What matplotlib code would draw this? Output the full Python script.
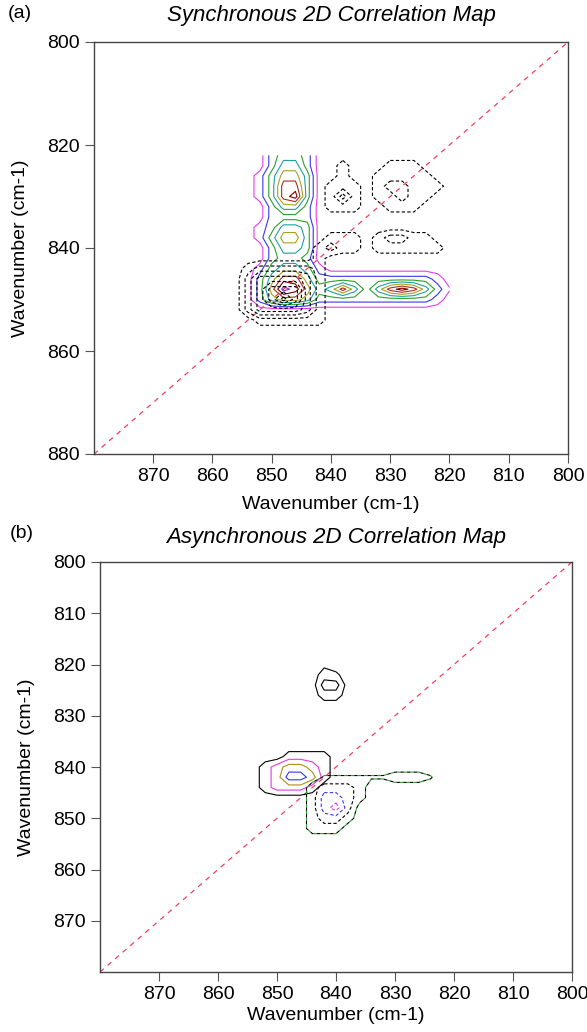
import numpy as np
import matplotlib
matplotlib.use('Agg')
import matplotlib.pyplot as plt

plt.rcParams['font.family'] = ['Liberation Sans', 'DejaVu Sans']

# ---- synchronous map: contour level grid, 2 cm-1 step ----
# columns run 858 -> 820 (left to right on the inverted axis), rows 822 -> 858 (top to bottom)
sync_x = np.arange(858, 819, -2)
sync_y = np.arange(822, 859, 2)

sync_pos = [
    [0, 0, 0, 0, 2, 3, 3, 2, 0, 0, 0, 0, 0, 0, 0, 0, 0, 0, 0, 0],  # 822
    [0, 0, 0, 0, 2, 4, 4, 2, 0, 0, 0, 0, 0, 0, 0, 0, 0, 0, 0, 0],  # 824
    [0, 0, 0, 1, 3, 5, 5, 3, 0, 0, 0, 0, 0, 0, 0, 0, 0, 0, 0, 0],  # 826
    [0, 0, 0, 1, 3, 6, 6, 3, 0, 0, 0, 0, 0, 0, 0, 0, 0, 0, 0, 0],  # 828
    [0, 0, 0, 1, 3, 6, 7, 3, 0, 0, 0, 0, 0, 0, 0, 0, 0, 0, 0, 0],  # 830
    [0, 0, 0, 0, 2, 4, 4, 2, 0, 0, 0, 0, 0, 0, 0, 0, 0, 0, 0, 0],  # 832
    [0, 0, 0, 0, 2, 2, 2, 2, 0, 0, 0, 0, 0, 0, 0, 0, 0, 0, 0, 0],  # 834
    [0, 0, 0, 1, 2, 4, 4, 3, 0, 0, 0, 0, 0, 0, 0, 0, 0, 0, 0, 0],  # 836
    [0, 0, 0, 1, 3, 5, 5, 3, 0, 0, 0, 0, 0, 0, 0, 0, 0, 0, 0, 0],  # 838
    [0, 0, 0, 0, 2, 4, 4, 3, 0, 0, 0, 0, 0, 0, 0, 0, 0, 0, 0, 0],  # 840
    [0, 0, 0, 0, 2, 3, 3, 2, 0, 0, 0, 0, 0, 0, 0, 0, 0, 0, 0, 0],  # 842
    [0, 0, 0, 1, 3, 4, 4, 3, 1, 0, 0, 0, 0, 0, 0, 0, 0, 0, 0, 0],  # 844
    [0, 0, 0, 2, 4, 6, 6, 4, 2, 2, 2, 2, 2, 2, 2, 2, 2, 2, 1, 0],  # 846
    [0, 0, 0, 2, 5, 8, 7, 5, 3, 4, 6, 4, 2, 4, 6, 7, 6, 4, 2, .6],  # 848
    [0, 0, 0, 2, 4, 5, 5, 4, 2, 2, 2, 2, 2, 2, 2, 2, 2, 2, 1, 0],  # 850
    [0, 0, 0, 0, 0, 0, 0, 0, 0, 0, 0, 0, 0, 0, 0, 0, 0, 0, 0, 0],  # 852
    [0, 0, 0, 0, 0, 0, 0, 0, 0, 0, 0, 0, 0, 0, 0, 0, 0, 0, 0, 0],  # 854
    [0, 0, 0, 0, 0, 0, 0, 0, 0, 0, 0, 0, 0, 0, 0, 0, 0, 0, 0, 0],  # 856
    [0, 0, 0, 0, 0, 0, 0, 0, 0, 0, 0, 0, 0, 0, 0, 0, 0, 0, 0, 0],  # 858
]

sync_neg = [
    [0, 0, 0, 0, 0, 0, 0, 0, 0, 0, 0, 0, 0, 0, 0, 0, 0, 0, 0, 0],  # 822
    [0, 0, 0, 0, 0, 0, 0, 0, 0, 0, 1, 0, 0, 0, 1, 1, 1, 0, 0, 0],  # 824
    [0, 0, 0, 0, 0, 0, 0, 0, 0, 0, 1, 0, 0, 1, 1, 1, 1, 1, 0, 0],  # 826
    [0, 0, 0, 0, 0, 0, 0, 0, 0, 1, 1, 1, 0, 1, 2, 2, 1, 1, 1, 0],  # 828
    [0, 0, 0, 0, 0, 0, 0, 0, 0, 1, 3, 1, 0, 1, 1, 2, 1, 1, 0, 0],  # 830
    [0, 0, 0, 0, 0, 0, 0, 0, 0, 1, 1, 1, 0, 0, 1, 1, 1, 0, 0, 0],  # 832
    [0, 0, 0, 0, 0, 0, 0, 0, 0, 0, 0, 0, 0, 0, 0, 0, 0, 0, 0, 0],  # 834
    [0, 0, 0, 0, 0, 0, 0, 0, 0, 0, 0, 0, 0, 0, 0, 0, 0, 0, 0, 0],  # 836
    [0, 0, 0, 0, 0, 0, 0, 0, 0, 1, 1, 1, 0, 1, 2, 2, 1, 1, 0, 0],  # 838
    [0, 0, 0, 0, 0, 0, 0, 0, 1, 2, 1, 1, 0, 1, 1, 1, 1, 1, 1, 0],  # 840
    [0, 0, 0, 0, 0, 0, 0, 0, 1, 0, 0, 0, 0, 0, 0, 0, 0, 0, 0, 0],  # 842
    [0, 0, 1, 2, 2, 2, 2, 2, 1, 0, 0, 0, 0, 0, 0, 0, 0, 0, 0, 0],  # 844
    [0, 0, 2, 4, 4, 4, 4, 3, 1, 0, 0, 0, 0, 0, 0, 0, 0, 0, 0, 0],  # 846
    [0, 0, 2, 4, 6, 6, 6, 3, 1, 0, 0, 0, 0, 0, 0, 0, 0, 0, 0, 0],  # 848
    [0, 0, 2, 4, 6, 8, 6, 3, 1, 0, 0, 0, 0, 0, 0, 0, 0, 0, 0, 0],  # 850
    [0, 0, 2, 4, 4, 4, 4, 3, 1, 0, 0, 0, 0, 0, 0, 0, 0, 0, 0, 0],  # 852
    [0, 0, 0, 1, 1, 1, 1, 1, 1, 0, 0, 0, 0, 0, 0, 0, 0, 0, 0, 0],  # 854
    [0, 0, 0, 0, 0, 0, 0, 0, 0, 0, 0, 0, 0, 0, 0, 0, 0, 0, 0, 0],  # 856
    [0, 0, 0, 0, 0, 0, 0, 0, 0, 0, 0, 0, 0, 0, 0, 0, 0, 0, 0, 0],  # 858
]

# ---- asynchronous map ----
# columns 856 -> 820, rows 818 -> 856
async_x = np.arange(856, 819, -2)
async_y = np.arange(818, 857, 2)

# small peak near (841, 823)
async_pos_top = [
    [0, 0, 0, 0, 0, 0, 0, 0, 0, 0, 0, 0, 0, 0, 0, 0, 0, 0, 0],  # 818
    [0, 0, 0, 0, 0, 0, 0, .25, 0, 0, 0, 0, 0, 0, 0, 0, 0, 0, 0],  # 820
    [0, 0, 0, 0, 0, 0, 0, 1, .7, 0, 0, 0, 0, 0, 0, 0, 0, 0, 0],  # 822
    [0, 0, 0, 0, 0, 0, 0, 2, 2, 0, 0, 0, 0, 0, 0, 0, 0, 0, 0],  # 824
    [0, 0, 0, 0, 0, 0, 0, 1, 1, 0, 0, 0, 0, 0, 0, 0, 0, 0, 0],  # 826
    [0, 0, 0, 0, 0, 0, 0, 0, 0, 0, 0, 0, 0, 0, 0, 0, 0, 0, 0],  # 828
]
async_top_y = async_y[:6]

async_pos = [
    [0, 0, 0, 0, 0, 0, 0, 0, 0, 0, 0, 0, 0, 0, 0, 0, 0, 0, 0],  # 836
    [0, 0, 0, 0, 1, 1, 1, 1, 0, 0, 0, 0, 0, 0, 0, 0, 0, 0, 0],  # 838
    [0, 0, 1, 2, 3, 3, 2, 1, 0, 0, 0, 0, 0, 0, 0, 0, 0, 0, 0],  # 840
    [0, 0, 1, 2, 4, 4, 3, 1, 0, 0, 0, 0, 0, 0, 0, 0, 0, 0, 0],  # 842
    [0, 0, 1, 2, 2, 2, 1, 0, 0, 0, 0, 0, 0, 0, 0, 0, 0, 0, 0],  # 844
    [0, 0, 0, 0, 0, 0, 0, 0, 0, 0, 0, 0, 0, 0, 0, 0, 0, 0, 0],  # 846
]
async_mid_y = async_y[9:15]

async_neg = [
    [0, 0, 0, 0, 0, 0, 0, 0, 0, 0, 0, 0, 0, 0, 0, 0, 0, 0, 0],  # 840
    [0, 0, 0, 0, 0, 0, 0, .6, .6, .6, .6, .6, .6, 1, 1, 1, .6, 0, 0],  # 842
    [0, 0, 0, 0, 0, 0, 1, 2, 2, 2, 1, 0, 0, 0, 0, 0, 0, 0, 0],  # 844
    [0, 0, 0, 0, 0, 0, 1, 3, 3, 2, 1, 0, 0, 0, 0, 0, 0, 0, 0],  # 846
    [0, 0, 0, 0, 0, 0, 1, 3, 4, 2, 0, 0, 0, 0, 0, 0, 0, 0, 0],  # 848
    [0, 0, 0, 0, 0, 0, 1, 2, 2, 1, 0, 0, 0, 0, 0, 0, 0, 0, 0],  # 850
    [0, 0, 0, 0, 0, 0, 1, 1, 1, 0, 0, 0, 0, 0, 0, 0, 0, 0, 0],  # 852
    [0, 0, 0, 0, 0, 0, 0, 0, 0, 0, 0, 0, 0, 0, 0, 0, 0, 0, 0],  # 854
]
async_low_y = async_y[11:19]

levels = [0.5, 1.5, 2.5, 3.5, 4.5, 5.5, 6.5, 7.5]
sync_colors = ['#e83ce8', '#3838e8', '#2ca02c', '#20a0a0', '#a8a020', '#a83020', '#800000', '#8030c0']
async_pos_colors = ['#000000', '#e03ce0', '#a89020', '#3838e8']
async_neg_colors = ['#000000', '#3838e8', '#e03ce0']

W, H = 587, 1032
fig = plt.figure(figsize=(W / 100, H / 100), dpi=100)
ax1 = fig.add_axes([94 / W, 1 - 454 / H, 474 / W, 412 / H])
ax2 = fig.add_axes([100 / W, 1 - 972 / H, 472 / W, 410 / H])


def setup(ax, yticks, xpad):
    ax.set_xlim(880, 800)
    ax.set_ylim(880, 800)
    ax.set_xticks(np.arange(870, 799, -10))
    ax.set_yticks(yticks)
    ax.tick_params(direction='out', length=6.5, width=0.8, color='#555555',
                   labelsize=14, pad=3.5)
    for s in ax.spines.values():
        s.set_color('#444444')
        s.set_linewidth(1.0)
    ax.set_xlabel('Wavenumber (cm-1)', fontsize=14, labelpad=xpad)
    ax.set_ylabel('Wavenumber (cm-1)', fontsize=14, labelpad=13)
    # x = y reference line
    ax.plot([880, 800], [880, 800], color='#f04060', lw=0.9, ls=(0, (4, 4)))


setup(ax1, np.arange(800, 881, 20), 8)
setup(ax2, np.arange(800, 871, 10), 3)

# synchronous map
ax1.contour(sync_x, sync_y, np.array(sync_pos, float), levels=levels,
            colors=sync_colors, linewidths=0.8, linestyles='solid')
ax1.contour(sync_x, sync_y, np.array(sync_neg, float), levels=levels,
            colors='black', linewidths=0.8, linestyles=[(0, (3, 2))])

# asynchronous map
ax2.contour(async_x, async_top_y, np.array(async_pos_top, float), levels=levels[:2],
            colors='black', linewidths=0.8, linestyles='solid')
ax2.contour(async_x, async_mid_y, np.array(async_pos, float), levels=levels[:4],
            colors=async_pos_colors, linewidths=0.8, linestyles='solid')
zneg = np.array(async_neg, float)
ax2.contour(async_x, async_low_y, zneg, levels=[0.5],
            colors='#2ca02c', linewidths=0.8, linestyles=[(0, (3, 3))])
ax2.contour(async_x, async_low_y, zneg, levels=[0.5],
            colors='black', linewidths=0.8, linestyles=[(3, (3, 3))])
ax2.contour(async_x, async_low_y, zneg, levels=levels[1:4],
            colors=async_neg_colors, linewidths=0.8, linestyles=[(0, (3, 2))])

fig.text(331 / W, 1 - 16 / H, 'Synchronous 2D Correlation Map', style='italic',
         fontsize=16, ha='center', va='center')
fig.text(8 / W, 1 - 14 / H, '(a)', fontsize=14, va='center')
fig.text(336 / W, 1 - 538 / H, 'Asynchronous 2D Correlation Map', style='italic',
         fontsize=16, ha='center', va='center')
fig.text(10 / W, 1 - 534 / H, '(b)', fontsize=14, va='center')

fig.savefig('out.png', dpi=100)
